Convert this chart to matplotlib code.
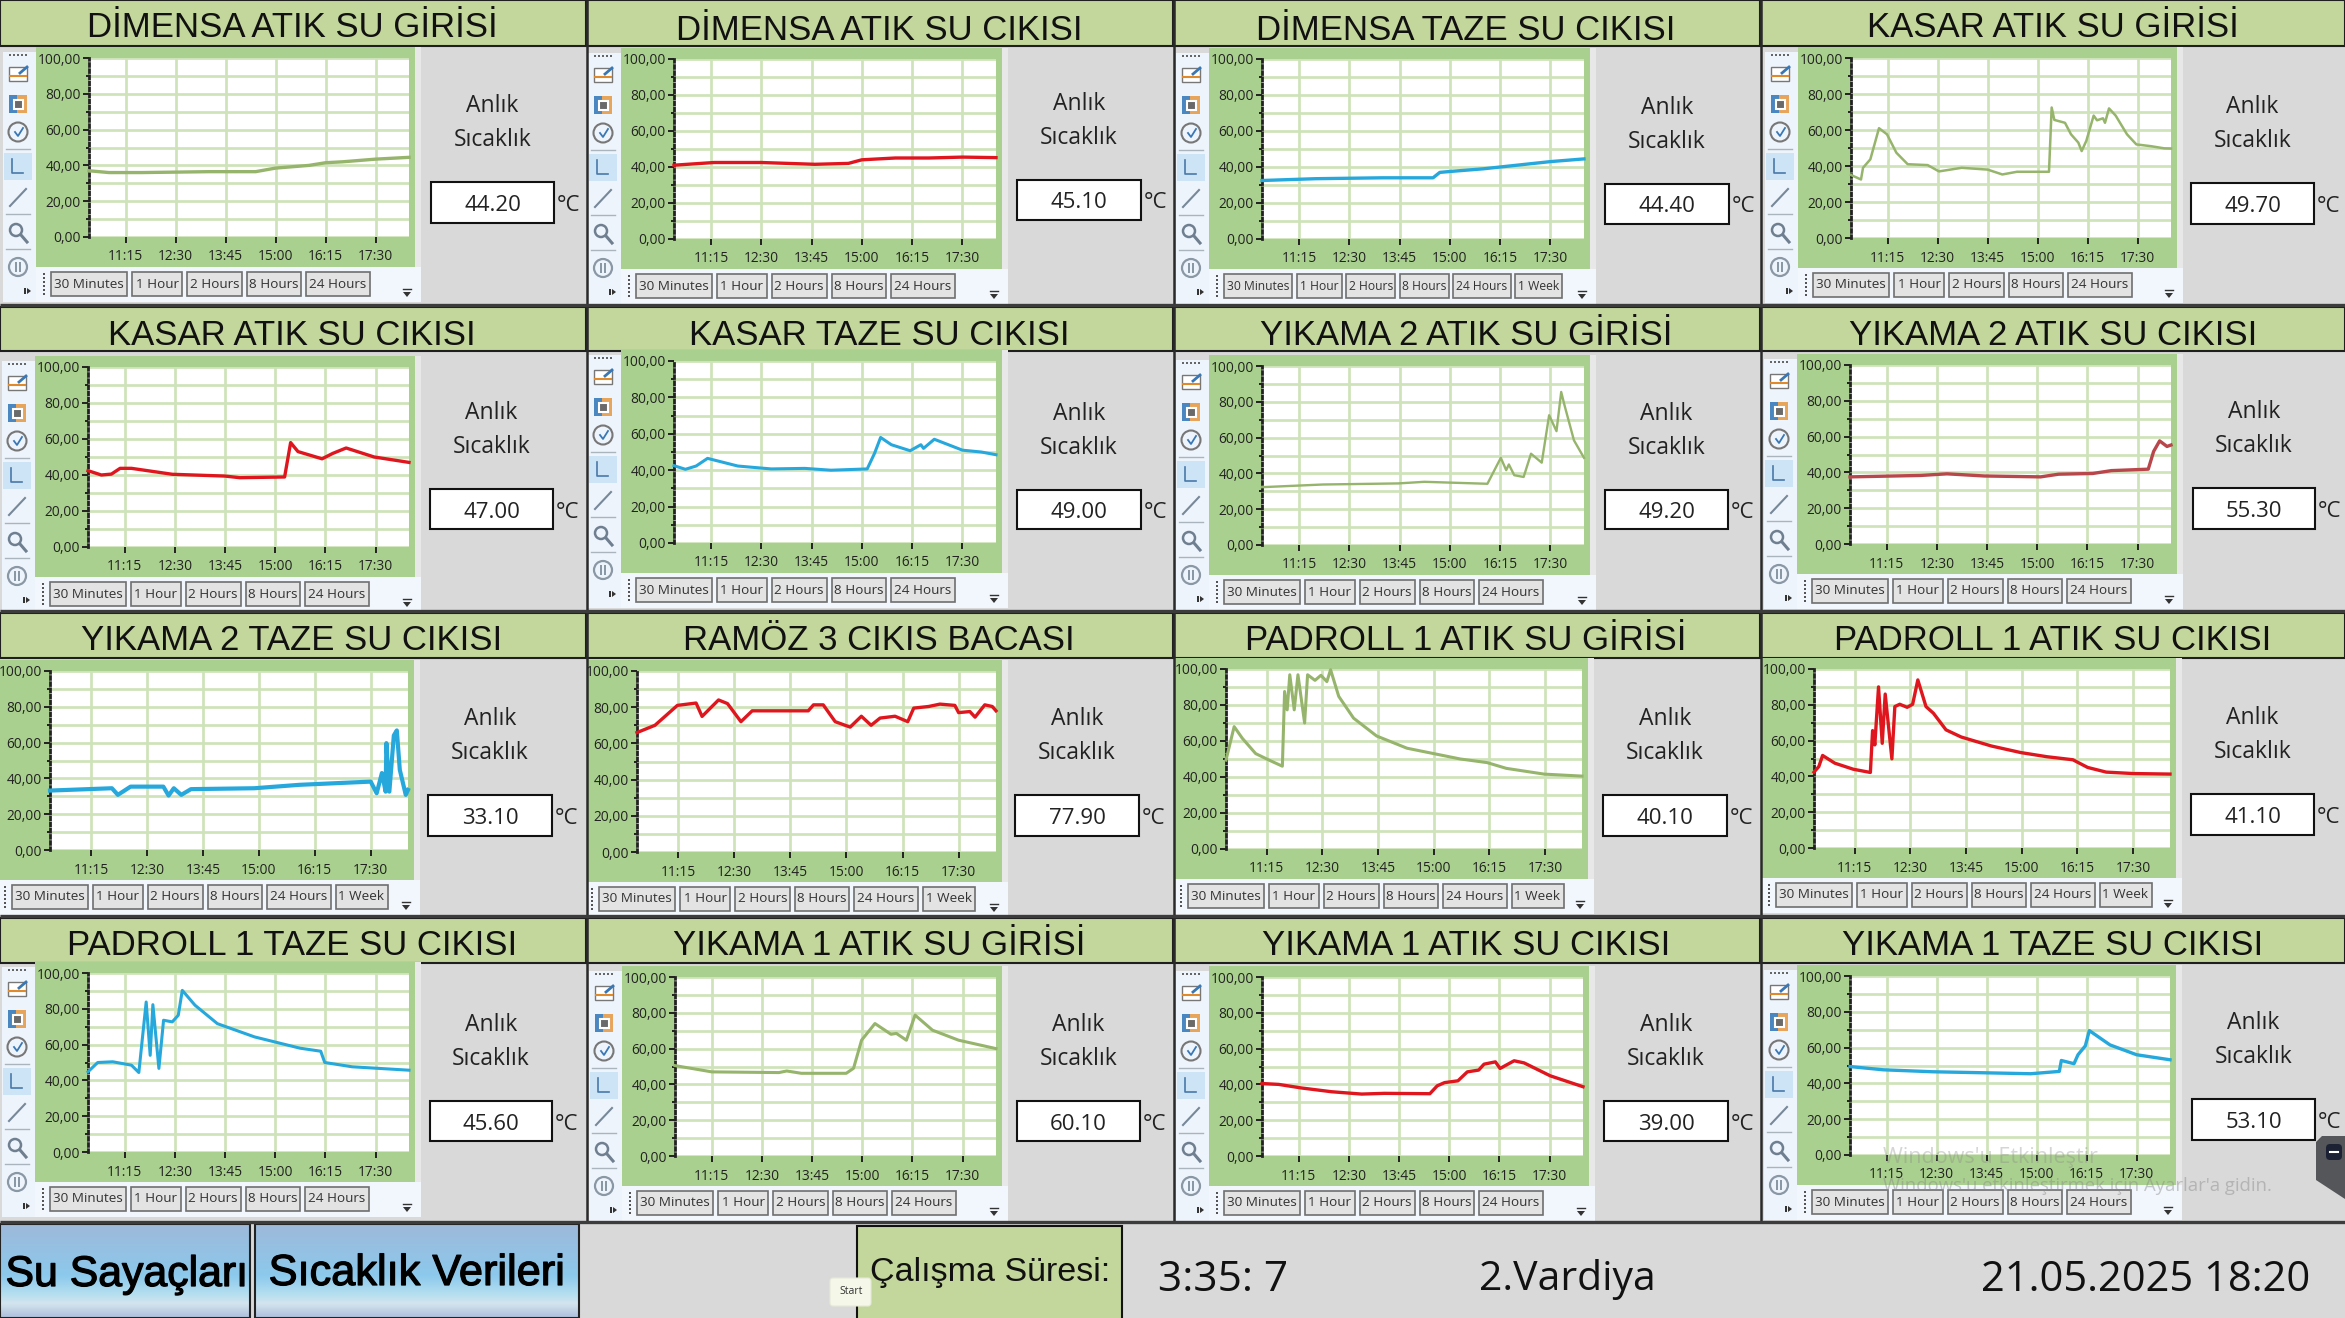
import matplotlib
matplotlib.use('Agg')
import matplotlib.pyplot as plt
import matplotlib.patheffects as pe
import numpy as np
from matplotlib.colors import LinearSegmentedColormap
from matplotlib.patches import Rectangle, Polygon, Circle, FancyBboxPatch

W, H = 2345, 1318
UI_FONT = ['Open Sans', 'DejaVu Sans']
HEAD_FONT = ['Liberation Sans', 'DejaVu Sans']

# time is minutes since midnight, value is deg C
t_dim_in = [620, 650, 700, 800, 870, 885, 900, 950, 975, 1000, 1050, 1100]
v_dim_in = [37, 36, 36, 36.5, 36.5, 37.5, 38.5, 40, 41.5, 42, 43.5, 44.5]
t_dim_out = [620, 680, 750, 830, 880, 900, 950, 1000, 1050, 1100]
v_dim_out = [41, 42.5, 42.5, 41.5, 42, 44, 45, 45, 45.5, 45.2]
t_dim_fresh = [620, 700, 800, 875, 885, 900, 950, 1000, 1050, 1100]
v_dim_fresh = [32.5, 33.5, 34, 34, 37, 37.5, 39, 41, 43, 44.5]
t_kas_in = [620, 635, 638, 649, 662, 674, 688, 705, 735, 752, 786, 825, 847, 869, 917, 921, 925,
            941, 950, 961, 966, 973, 984, 989, 998, 1001, 1007, 1017, 1034, 1048, 1070, 1090, 1100]
v_kas_in = [35, 32.5, 39, 43.7, 61, 57.6, 47.4, 41, 40.5, 37, 39, 38, 35.3, 36.8, 36.8, 72.5, 65.6,
            64, 57.6, 53, 48.3, 54, 68, 65.4, 66.5, 64, 72, 68, 57.6, 52, 51, 49.8, 49.7]
t_kas_out = [620, 640, 655, 668, 685, 746, 825, 847, 914, 923, 934, 970, 986, 1006, 1048, 1100]
v_kas_out = [42.4, 40, 40.5, 43.7, 43.7, 40.4, 39.4, 38.5, 38.9, 58, 53, 49, 52, 55, 50, 47]
t_kas_fresh = [620, 637, 653, 670, 715, 765, 815, 854, 908, 919, 928, 944, 972, 988, 992, 1008, 1050, 1078, 1100]
v_kas_fresh = [42.5, 40.5, 42.3, 46.5, 42.3, 40.7, 41, 40, 40.7, 49.3, 58, 54, 50.7, 54, 52, 57, 51, 50, 48.5]
t_yk2_in = [620, 711, 823, 862, 956, 976, 984, 988, 996, 1010, 1021, 1037, 1048, 1059, 1066, 1071, 1085, 1100]
v_yk2_in = [32.3, 33.8, 34.4, 35.3, 34.2, 48.7, 41.8, 45, 39, 38, 51, 46, 72.5, 63.6, 85.5, 78, 58.5, 48.7]
t_yk2_out = [620, 726, 765, 821, 905, 932, 983, 1011, 1066, 1074, 1083, 1094, 1100]
v_yk2_out = [37.5, 38.3, 39.2, 38, 37.5, 39, 39.4, 41, 41.8, 51.7, 57.6, 54.5, 55.3]
t_yk2_fresh = [620, 703, 711, 728, 772, 779, 786, 796, 809, 894, 954, 1050, 1058, 1065, 1070,
               1071, 1075, 1081, 1085, 1089, 1097, 1100]
v_yk2_fresh = [33.2, 34.5, 30.8, 35.4, 35.4, 30.4, 34.5, 30.8, 34, 34.5, 36.4, 38.2, 31.7, 43, 32.6,
               59.7, 32.6, 64, 66.8, 44.8, 30.8, 33.6]
t_ram = [620, 644, 674, 699, 707, 729, 741, 759, 774, 849, 856, 869, 885, 905, 920, 933, 945,
         965, 982, 990, 1010, 1025, 1045, 1050, 1065, 1072, 1085, 1095, 1100]
v_ram = [66, 70, 81, 82.3, 74.9, 84, 82, 72, 78, 78, 81.3, 81.3, 72, 69, 75, 70, 74,
         75, 72, 79.5, 80.4, 81.7, 81, 77, 77.6, 74.5, 81.3, 80.4, 78]
t_pad_in = [620, 631, 642, 660, 678, 696, 699, 702.5, 706, 712, 717, 726, 730, 740, 748, 756, 761,
            772, 792, 823, 864, 900, 936, 972, 998, 1049, 1100]
v_pad_in = [49.4, 68, 61.5, 53, 49.4, 46, 87.5, 77.3, 96.8, 77.3, 96.8, 70, 96.8, 93.7, 96.5, 93, 99.6,
            84.8, 72.7, 62.8, 56, 53, 50, 48, 44.8, 41.6, 40.5]
t_pad_out = [620, 626.5, 631.6, 648, 673, 696, 699, 702, 707, 712, 716, 725, 729, 735.6, 745.6, 753, 760,
             771, 781, 798, 818.5, 859, 899, 934, 969, 989, 1014, 1050, 1100]
v_pad_out = [42.4, 45.5, 51.7, 47.4, 44, 42.2, 65.6, 57.6, 90, 58.5, 86, 49.8, 79, 80.3, 78.6, 80.3, 93.9,
             79, 75.3, 66, 62, 57, 53.3, 51, 49.3, 45, 42.4, 41.6, 41.3]
t_pad_fresh = [620, 634.5, 657, 685, 696, 699.5, 707, 713, 717, 726, 733, 746, 755, 761, 780, 813.5,
               869, 937, 968, 974, 1015, 1100]
v_pad_fresh = [44.8, 50, 50.4, 48.5, 44.4, 56.9, 83.8, 54, 82.3, 46.7, 73.6, 72.7, 76.4, 90.3, 82, 71.7,
               64.3, 58, 56.3, 50, 47.6, 45.7]
t_yk1_in = [620, 675, 775.5, 787, 809, 876, 887, 899, 919, 943, 951, 966, 979, 1005, 1044, 1100]
v_yk1_in = [50.5, 47, 46.6, 47.5, 46.2, 46.2, 49, 64.7, 74, 68, 68.5, 64.7, 78.7, 70.3, 64.7, 60]
t_yk1_out = [620, 645, 679, 724, 769, 803, 871, 882, 893, 913, 927, 944, 952, 969, 976, 997, 1012, 1051, 1100]
v_yk1_out = [40.5, 40, 38, 35.9, 34.6, 35, 34.8, 39.2, 41, 42, 47, 48, 51.3, 52.6, 48.9, 53.2, 52, 44.8, 38.7]
t_yk1_fresh = [620, 670, 744, 812, 891, 934, 937, 956, 962, 973, 979, 1010, 1050, 1100]
v_yk1_fresh = [49.4, 47.6, 46.5, 46, 45.4, 46.7, 52.8, 51, 56, 61, 69.5, 61.5, 56, 53.2]

series = [(t_dim_in, v_dim_in), (t_dim_out, v_dim_out), (t_dim_fresh, v_dim_fresh), (t_kas_in, v_kas_in),
          (t_kas_out, v_kas_out), (t_kas_fresh, v_kas_fresh), (t_yk2_in, v_yk2_in), (t_yk2_out, v_yk2_out),
          (t_yk2_fresh, v_yk2_fresh), (t_ram, v_ram), (t_pad_in, v_pad_in), (t_pad_out, v_pad_out),
          (t_pad_fresh, v_pad_fresh), (t_yk1_in, v_yk1_in), (t_yk1_out, v_yk1_out), (t_yk1_fresh, v_yk1_fresh)]

titles = ['DİMENSA ATIK SU GİRİSİ', 'DİMENSA ATIK SU CIKISI', 'DİMENSA TAZE SU CIKISI', 'KASAR ATIK SU GİRİSİ',
          'KASAR ATIK SU CIKISI', 'KASAR TAZE SU CIKISI', 'YIKAMA 2 ATIK SU GİRİSİ', 'YIKAMA 2 ATIK SU CIKISI',
          'YIKAMA 2 TAZE SU CIKISI', 'RAMÖZ 3 CIKIS BACASI', 'PADROLL 1 ATIK SU GİRİSİ', 'PADROLL 1 ATIK SU CIKISI',
          'PADROLL 1 TAZE SU CIKISI', 'YIKAMA 1 ATIK SU GİRİSİ', 'YIKAMA 1 ATIK SU CIKISI', 'YIKAMA 1 TAZE SU CIKISI']
readings = ['44.20', '45.10', '44.40', '49.70', '47.00', '49.00', '49.20', '55.30',
            '33.10', '77.90', '40.10', '41.10', '45.60', '60.10', '39.00', '53.10']

GREEN, RED, BLUE, BROWN = '#96b46c', '#e0161e', '#27a8dc', '#b8464a'
line_colors = [GREEN, RED, BLUE, GREEN, RED, BLUE, GREEN, BROWN, BLUE, RED, GREEN, RED, BLUE, GREEN, RED, BLUE]
line_widths = [2.4, 2.4, 2.4, 1.8, 2.4, 2.2, 1.7, 2.4, 3.0, 2.4, 2.2, 2.4, 2.2, 2.2, 2.4, 2.4]

x_ticks = [675, 750, 825, 900, 975, 1050]
x_labels = ['11:15', '12:30', '13:45', '15:00', '16:15', '17:30']
y_ticks = [0, 20, 40, 60, 80, 100]
y_labels = ['0,00', '20,00', '40,00', '60,00', '80,00', '100,00']
buttons = ['30 Minutes', '1 Hour', '2 Hours', '8 Hours', '24 Hours', '1 Week']
button_widths = [76.5, 50, 54.5, 54.5, 63.5, 52]

# pixel layout: plot left, right, top, bottom
plot_boxes = [(89, 409, 58, 237), (674, 996, 59, 239), (1262, 1584, 59, 239), (1851, 2171, 58, 238),
              (88, 409, 367, 547), (674, 996, 361, 543), (1262, 1584, 366, 545), (1850, 2171, 365, 544),
              (50, 408, 671, 850), (637, 996, 671, 852), (1226, 1582, 669, 849), (1814, 2170, 669, 848),
              (88, 409, 973, 1152), (675, 996, 977, 1156), (1262, 1583, 977, 1156), (1850, 2170, 976, 1155)]
value_boxes = [(431, 554, 182, 223), (1017, 1141, 180, 220), (1605, 1729, 184, 224), (2191, 2314, 183, 224),
               (430, 553, 489, 529), (1017, 1141, 490, 529), (1605, 1728, 490, 529), (2193, 2315, 488, 529),
               (428, 552, 795, 836), (1015, 1139, 795, 836), (1603, 1727, 795, 836), (2191, 2314, 794, 835),
               (430, 552, 1101, 1141), (1017, 1140, 1101, 1141), (1604, 1728, 1101, 1141), (2192, 2315, 1099, 1140)]
title_baselines = [(292, 37), (879, 40), (1466, 40), (2053, 37), (292, 345), (879, 345), (1466, 345), (2053, 345),
                   (292, 650), (879, 650), (1466, 650), (2053, 650), (292, 955), (879, 955), (1466, 955), (2053, 955)]
col_left = [0, 587, 1174, 1761]
col_right = [586, 1173, 1760, 2345]
band_top = [0, 307, 613, 918]
band_bottom = [46, 351, 658, 963]
no_strip = [8, 9, 10, 11]
with_week = [2, 8, 9, 10, 11]
squeezed_buttons = [2]

BAND = '#c3d69b'
PANEL = '#a9d08e'
GRID = '#cfe3bb'

fig = plt.figure(figsize=(W / 100, H / 100), dpi=100, facecolor='#d9d9d9')
bg = fig.add_axes([0, 0, 1, 1], zorder=0)
bg.set_xlim(0, W)
bg.set_ylim(H, 0)
bg.axis('off')
top = fig.add_axes([0, 0, 1, 1], zorder=5)
top.set_xlim(0, W)
top.set_ylim(H, 0)
top.axis('off')
top.patch.set_alpha(0)


def rect(x0, y0, x1, y1, ax=bg, **kw):
    kw.setdefault('linewidth', 0)
    ax.add_patch(Rectangle((x0, y0), x1 - x0, y1 - y0, **kw))


def tool_strip(x0, y0, y1):
    # the little graph toolbar on the left of a panel
    rect(x0, y0 + 5, x0 + 33, y1, facecolor='#eef4fb')
    cx = x0 + 15
    for k in range(-2, 3):
        rect(cx + k * 4 - 1, y0 + 7, cx + k * 4 + 1, y0 + 9, facecolor='#666666')
    rect(cx - 9, y0 + 20, cx + 9, y0 + 34, facecolor='white', edgecolor='#777777', linewidth=1)
    bg.plot([cx - 8, cx + 8], [y0 + 29, y0 + 29], color='#e08a2c', lw=1.5)
    bg.plot([cx + 2, cx + 9], [y0 + 26, y0 + 20], color='#3a78b5', lw=2)
    rect(cx - 9, y0 + 48, cx + 1, y0 + 66, facecolor='#4a86c0')
    rect(cx - 1, y0 + 48, cx + 9, y0 + 66, facecolor='#e7a55c')
    rect(cx - 4, y0 + 53, cx + 5, y0 + 62, facecolor='#6a6a6a', edgecolor='white', linewidth=1.5)
    bg.add_patch(Circle((cx, y0 + 85), 9.5, facecolor='none', edgecolor='#777777', lw=1.5))
    bg.plot([cx - 3, cx, cx + 5], [y0 + 85, y0 + 89, y0 + 81], color='#3a78b5', lw=1.3)
    for dy in [102, 167, 202]:
        bg.plot([cx - 12, cx + 12], [y0 + dy, y0 + dy], color='#aab4bc', lw=1)
    rect(x0 + 1, y0 + 106, x0 + 29, y0 + 133, facecolor='#cde4f7')
    bg.plot([cx - 6, cx - 6, cx + 5], [y0 + 112, y0 + 126, y0 + 126], color='#4a78a8', lw=1.2)
    bg.plot([cx - 8, cx + 8], [y0 + 159, y0 + 142], color='#778899', lw=1.5)
    bg.add_patch(Circle((cx - 2, y0 + 183), 6, facecolor='none', edgecolor='#6f7f90', lw=1.8))
    bg.plot([cx + 3, cx + 9], [y0 + 188, y0 + 195], color='#6f7f90', lw=2.2)
    bg.add_patch(Circle((cx, y0 + 220), 9, facecolor='none', edgecolor='#8a97a5', lw=1.6))
    rect(cx - 3, y0 + 215, cx - 1, y0 + 225, facecolor='#8a97a5')
    rect(cx + 1, y0 + 215, cx + 3, y0 + 225, facecolor='#8a97a5')
    bg.add_patch(Polygon([[cx + 9, y0 + 241], [cx + 13, y0 + 244], [cx + 9, y0 + 247]], facecolor='#333333'))
    rect(cx + 6, y0 + 241, cx + 7.5, y0 + 247, facecolor='#333333')


for i in range(16):
    col, row = i % 4, i // 4
    px0, px1, py0, py1 = plot_boxes[i]
    gx0 = col_left[col] if i in no_strip else px0 - 53
    gx1, gy0, gy1 = px1 + 6, py0 - 11, py1 + 30

    # title band
    rect(col_left[col], band_top[row], col_right[col], band_bottom[row], facecolor=BAND, edgecolor='#1f1f1f', linewidth=1.5)
    bg.text(title_baselines[i][0], title_baselines[i][1], titles[i], ha='center', va='baseline', fontsize=25,
            family=HEAD_FONT, color='#111111')

    # green frame and button row
    rect(gx1, gy0, gx1 + 6, gy1, facecolor='#e8e8e8', zorder=2)
    rect(gx0, gy0, gx1, gy1, facecolor=PANEL, zorder=2)
    rect(gx0, gy1, gx1 + 6, gy1 + 35, facecolor='#f2f7fd', zorder=2)
    if i not in no_strip:
        tool_strip(gx0 - 33, gy0, gy1 + 35)
    bx = px0 - 38.5
    n_buttons = 6 if i in with_week else 5
    squeeze = 0.9 if i in squeezed_buttons else 1.0
    for k in range(n_buttons):
        bw = button_widths[k] * squeeze
        rect(bx, gy1 + 5, bx + bw, gy1 + 29, facecolor='#e3e3e3', edgecolor='#6f6f6f', linewidth=1.2, zorder=3)
        bg.text(bx + bw / 2, gy1 + 17, buttons[k], ha='center', va='center', fontsize=9.7 * squeeze,
                family=UI_FONT, color='#333333', zorder=4)
        bx += bw + 5 * squeeze
    for k in range(6):
        rect(px0 - 46, gy1 + 6 + k * 4, px0 - 44, gy1 + 8 + k * 4, facecolor='#555555', zorder=3)
    bg.add_patch(Polygon([[gx1 - 12, gy1 + 25], [gx1 - 4, gy1 + 25], [gx1 - 8, gy1 + 30]], facecolor='#333333', zorder=3))
    bg.plot([gx1 - 12, gx1 - 4], [gy1 + 22, gy1 + 22], color='#333333', lw=1, zorder=3)

    # chart
    ax = fig.add_axes([px0 / W, 1 - py1 / H, (px1 - px0) / W, (py1 - py0) / H], zorder=3)
    ax.set_facecolor('white')
    ax.plot(series[i][0], series[i][1], color=line_colors[i], lw=line_widths[i], clip_on=False, solid_joinstyle='round', zorder=4)
    ax.set_xlim(620, 1100)
    ax.set_ylim(0, 100)
    ax.set_xticks(x_ticks)
    ax.set_xticklabels(x_labels)
    ax.set_yticks(y_ticks)
    ax.set_yticklabels(y_labels)
    ax.set_yticks(np.arange(10, 100, 20), minor=True)
    ax.grid(True, which='both', axis='y', color=GRID, lw=2)
    ax.grid(True, which='major', axis='x', color=GRID, lw=2)
    ax.set_axisbelow(True)
    ax.tick_params(axis='both', which='major', length=4.5, width=1.4, color='#222222', labelsize=9.9,
                   labelcolor='#222222', pad=1.5)
    ax.tick_params(axis='x', which='major', pad=4.5)
    ax.tick_params(axis='y', which='minor', length=2.5, width=1.4, color='#222222')
    for lab in ax.get_xticklabels() + ax.get_yticklabels():
        lab.set_family(UI_FONT)
    for side in ['top', 'right', 'bottom']:
        ax.spines[side].set_visible(False)
    ax.spines['left'].set_linestyle((0, (1, 1.2)))
    ax.spines['left'].set_linewidth(2)
    ax.spines['left'].set_color('#222222')

    # current reading
    vx0, vx1, vy0, vy1 = value_boxes[i]
    cx = (vx0 + vx1) / 2
    bg.text(cx, vy0 - 76, 'Anlık', ha='center', va='center', fontsize=16.5, family=UI_FONT, color='#222222')
    bg.text(cx, vy0 - 42, 'Sıcaklık', ha='center', va='center', fontsize=16.5, family=UI_FONT, color='#222222')
    rect(vx0, vy0, vx1, vy1, facecolor='white', edgecolor='#111111', linewidth=1.5)
    bg.text(cx, (vy0 + vy1) / 2 + 3, readings[i], ha='center', va='center', fontsize=16, family=UI_FONT, color='#222222')
    bg.text(vx1 + 3, (vy0 + vy1) / 2 + 3, '°C', ha='left', va='center', fontsize=16, family=UI_FONT, color='#222222')

# panel dividers
for yy in [305, 611, 916, 1222]:
    top.plot([0, W], [yy, yy], color='#3c3c3c', lw=2.4, solid_capstyle='butt')
for xx in [586.5, 1173.5, 1760.5]:
    top.plot([xx, xx], [0, 1222], color='#2a2a2a', lw=1.8, solid_capstyle='butt', zorder=1)

# bottom bar
grad = LinearSegmentedColormap.from_list('btn', [(0, '#9db9da'), (0.55, '#8cc9ec'), (0.75, '#b5dff0'),
                                                 (0.85, '#d4e4ee'), (1, '#adbfdc')])
g = np.linspace(0, 1, 100).reshape(-1, 1)
bg.imshow(g, cmap=grad, extent=(0, 250, 1318, 1224), aspect='auto', zorder=1)
bg.imshow(g, cmap=grad, extent=(255, 579, 1318, 1224), aspect='auto', zorder=1)
bg.set_xlim(0, W)
bg.set_ylim(H, 0)
for x0, x1 in [(0, 250), (255, 579)]:
    rect(x0, 1224, x1, 1318, facecolor='none', edgecolor='#222222', linewidth=1.5, zorder=2)
stroke = [pe.withStroke(linewidth=0.9, foreground='black')]
bg.text(127, 1275, 'Su Sayaçları', ha='center', va='center', fontsize=30.8, family=HEAD_FONT, path_effects=stroke, zorder=3)
bg.text(417, 1274, 'Sıcaklık Verileri', ha='center', va='center', fontsize=31.2, family=HEAD_FONT, path_effects=stroke, zorder=3)
rect(857, 1226, 1122, 1320, facecolor=BAND, edgecolor='#111111', linewidth=1.5)
bg.text(990, 1273, 'Çalışma Süresi:', ha='center', va='center', fontsize=24.5, family=HEAD_FONT, color='#111111')
bg.text(1223, 1280, '3:35: 7', ha='center', va='center', fontsize=30.5, family=UI_FONT, color='#111111')
bg.text(1567, 1280, '2.Vardiya', ha='center', va='center', fontsize=29.5, family=UI_FONT, color='#111111')
bg.text(2146, 1280, '21.05.2025 18:20', ha='center', va='center', fontsize=30, family=UI_FONT, color='#111111')

top.add_patch(FancyBboxPatch((832, 1280), 37, 24, boxstyle='round,pad=2,rounding_size=3', facecolor='#f5f8e8', edgecolor='#e6e9d8', lw=0.8))
top.text(851, 1292, 'Start', ha='center', va='center', fontsize=7.5, family=UI_FONT, color='#333333')

# windows watermark and remote desktop tab
top.text(1883, 1158, "Windows'u Etkinleştir", ha='left', va='center', fontsize=15.5, family=UI_FONT, color='#888888', alpha=0.35)
top.text(1883, 1186, "Windows'u etkinleştirmek için Ayarlar'a gidin.", ha='left', va='center', fontsize=13.3, family=UI_FONT, color='#888888', alpha=0.45)
top.add_patch(Polygon([[2345, 1136], [2322, 1136], [2316, 1142], [2316, 1180], [2345, 1199]], facecolor='#55565a'))
top.add_patch(FancyBboxPatch((2328, 1146), 12, 12, boxstyle='round,pad=2,rounding_size=4', facecolor='#1c2233', edgecolor='none'))
top.plot([2330, 2338], [1152, 1152], color='white', lw=1.5)

fig.savefig('out.png', dpi=100, facecolor=fig.get_facecolor())
